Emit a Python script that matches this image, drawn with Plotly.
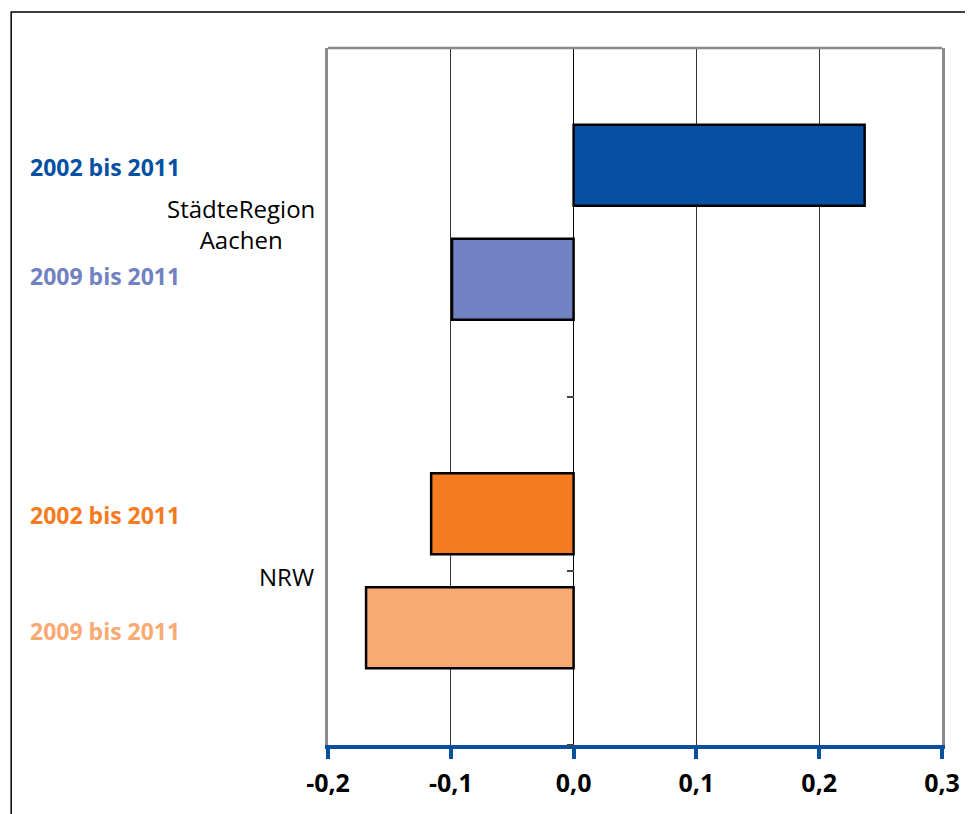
import plotly.graph_objects as go

categories = ["StädteRegion Aachen", "NRW"]
series_names = ["2002 bis 2011", "2009 bis 2011"]
values_2002 = [0.237, -0.116]
values_2009 = [-0.099, -0.169]
colors_2002 = ["#0550A3", "#F47B22"]
colors_2009 = ["#7181C1", "#F9AA73"]
x_tickvals = [-0.2, -0.1, 0.0, 0.1, 0.2, 0.3]
x_ticktext = ["-0,2", "-0,1", "0,0", "0,1", "0,2", "0,3"]
category_boundaries = [-0.5, 0.5, 1.0, 1.5]

FONT = "Open Sans"

fig = go.Figure()
fig.add_trace(go.Bar(
    y=categories, x=values_2002, orientation="h", name=series_names[0],
    marker=dict(color=colors_2002, line=dict(color="black", width=2.5)),
))
fig.add_trace(go.Bar(
    y=categories, x=values_2009, orientation="h", name=series_names[1],
    marker=dict(color=colors_2009, line=dict(color="black", width=2.5)),
))
# invisible helper so the category tick axis on the zero line is drawn
fig.add_trace(go.Scatter(
    x=[0] * len(category_boundaries), y=category_boundaries, yaxis="y2",
    mode="lines", line=dict(width=0), opacity=0, hoverinfo="skip", showlegend=False,
))

fig.update_layout(
    width=965, height=806,
    margin=dict(l=320, r=31, t=40, b=69),
    paper_bgcolor="white", plot_bgcolor="white",
    showlegend=False,
    barmode="group", bargap=0.345, bargroupgap=0.29,
    font=dict(family=FONT, color="black"),
    xaxis=dict(
        range=[-0.2, 0.3], tickvals=x_tickvals, ticktext=x_ticktext,
        showgrid=True, gridcolor="#333333", gridwidth=1,
        zeroline=True, zerolinecolor="black", zerolinewidth=1,
        showline=True, linecolor="#0A50A0", linewidth=4,
        ticks="outside", tickcolor="#0A50A0", tickwidth=3.5, ticklen=10,
        ticklabelstandoff=3,
        tickfont=dict(size=25, family=FONT, color="black", weight="bold"),
    ),
    yaxis=dict(
        type="category", range=[1.5, -0.5], showticklabels=False,
        showgrid=False, zeroline=False, ticks="",
        showline=True, linecolor="#8C8C8C", linewidth=2.5, mirror=True,
    ),
    yaxis2=dict(
        overlaying="y", anchor="free", position=0.4, side="left",
        range=[1.5, -0.5], tickvals=category_boundaries,
        ticks="outside", ticklen=7, tickcolor="#444444", tickwidth=1.5,
        showticklabels=False, showgrid=False, zeroline=False, showline=False,
    ),
)

# top border of plot area and outer frame
fig.add_shape(type="line", xref="paper", yref="paper", x0=0, x1=1, y0=1, y1=1,
              line=dict(color="#8C8C8C", width=2.5))
fig.add_shape(type="rect", xref="paper", yref="paper",
              x0=-0.516, x1=1.3, y0=-0.3, y1=1.0516,
              line=dict(color="black", width=1.5), layer="below")

# series labels on the left
label_specs = [
    (series_names[0], colors_2002[0], 0.829),
    (series_names[1], colors_2009[0], 0.673),
    (series_names[0], colors_2002[1], 0.330),
    (series_names[1], colors_2009[1], 0.164),
]
for txt, col, yp in label_specs:
    fig.add_annotation(text=txt, xref="paper", yref="paper", x=-0.4886, y=yp,
                       xanchor="left", yanchor="middle", showarrow=False,
                       font=dict(size=23, color=col, family=FONT, weight="bold"))

fig.add_annotation(text="StädteRegion<br>Aachen", xref="paper", yref="paper",
                   x=-0.1409, y=0.748, xanchor="center", yanchor="middle",
                   align="center", showarrow=False,
                   font=dict(size=24, color="black", family=FONT))
fig.add_annotation(text="NRW", xref="paper", yref="paper",
                   x=-0.0195, y=0.242, xanchor="right", yanchor="middle",
                   showarrow=False, font=dict(size=24, color="black", family=FONT))

fig.write_html("out.html")
